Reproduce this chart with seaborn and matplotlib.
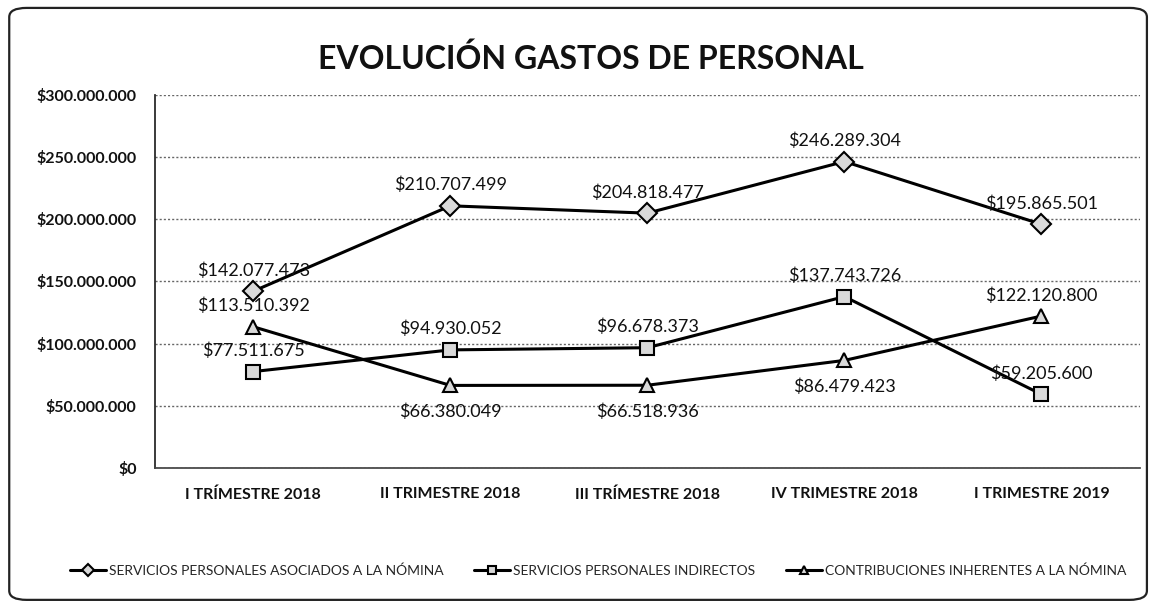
import numpy as np
import pandas as pd
import matplotlib
matplotlib.use("Agg")
import matplotlib.pyplot as plt
from matplotlib.patches import FancyBboxPatch
from matplotlib.ticker import FuncFormatter, FixedLocator
import seaborn as sns

# data
trimestres = ["I TRÍMESTRE 2018", "II TRIMESTRE 2018", "III TRÍMESTRE 2018",
              "IV TRIMESTRE 2018", "I TRIMESTRE 2019"]
series = ["SERVICIOS PERSONALES ASOCIADOS A LA NÓMINA",
          "SERVICIOS PERSONALES INDIRECTOS",
          "CONTRIBUCIONES INHERENTES A LA NÓMINA"]
asociados = [142077473, 210707499, 204818477, 246289304, 195865501]
indirectos = [77511675, 94930052, 96678373, 137743726, 59205600]
contribuciones = [113510392, 66380049, 66518936, 86479423, 122120800]

# label placement per point: 1 above, -1 below
pos_asociados = [1, 1, 1, 1, 1]
pos_indirectos = [1, 1, 1, 1, 1]
pos_contribuciones = [1, -1, -1, -1, 1]

df = pd.DataFrame({
    "trimestre": trimestres * 3,
    "valor": asociados + indirectos + contribuciones,
    "serie": [series[0]] * 5 + [series[1]] * 5 + [series[2]] * 5,
})

sns.set_theme(style="white")
plt.rcParams["font.family"] = ["Lato", "DejaVu Sans"]

fig = plt.figure(figsize=(11.55, 6.09), dpi=100)
ax = fig.add_axes([0.134, 0.2315, 0.853, 0.613])

sns.lineplot(data=df, x="trimestre", y="valor", hue="serie", style="serie",
             markers=["D", "s", "^"], dashes=False, sort=False,
             palette=["black"] * 3, linewidth=2.2, markersize=10,
             markerfacecolor="#d9d9d9", markeredgecolor="black",
             markeredgewidth=1.5, ax=ax)


def pesos(v, _=None):
    return "$" + f"{int(round(v)):,}".replace(",", ".")


for vals, pos in [(asociados, pos_asociados), (indirectos, pos_indirectos),
                  (contribuciones, pos_contribuciones)]:
    for i, (v, p) in enumerate(zip(vals, pos)):
        ax.annotate(pesos(v), (i, v), xytext=(0, 9 if p > 0 else -13),
                    textcoords="offset points",
                    ha="center", va="bottom" if p > 0 else "top",
                    fontsize=13, color="#111111")

ax.set_xlim(-0.5, 4.5)
ax.set_ylim(0, 300000000)
ax.yaxis.set_major_locator(FixedLocator(np.arange(0, 300000001, 50000000)))
ax.yaxis.set_major_formatter(FuncFormatter(pesos))
ax.xaxis.set_minor_locator(FixedLocator([0.5, 1.5, 2.5, 3.5]))
ax.tick_params(axis="x", which="major", length=0, pad=14, labelsize=11.5)
ax.tick_params(axis="x", which="minor", length=5, color="#333333", direction="out")
ax.tick_params(axis="y", length=5, color="#333333", direction="out", labelsize=11.5, pad=8)
for lab in ax.get_xticklabels() + ax.get_yticklabels():
    lab.set_fontweight("bold")
    lab.set_color("#111111")

ax.grid(axis="y", linestyle=(0, (1.5, 1.5)), color="#666666", linewidth=1)
ax.set_axisbelow(True)
for s in ["top", "right"]:
    ax.spines[s].set_visible(False)
ax.spines["left"].set_color("#222222")
ax.spines["bottom"].set_color("#444444")
ax.set_xlabel("")
ax.set_ylabel("")

ax.legend(loc="upper center", bbox_to_anchor=(0.45, -0.225), ncol=3, frameon=False,
          fontsize=10, handlelength=2.6, columnspacing=2.2, markerscale=0.6,
          handletextpad=0.2)

fig.text(0.512, 0.903, "EVOLUCIÓN GASTOS DE PERSONAL", ha="center", va="center",
         fontsize=23, fontweight="bold", color="#111111")

frame = FancyBboxPatch((0.008, 0.015), 0.985, 0.972, boxstyle="round,pad=0,rounding_size=0.015",
                       transform=fig.transFigure, fill=False, edgecolor="#222222",
                       linewidth=1.6)
fig.patches.append(frame)

fig.savefig("out.png", dpi=100)
